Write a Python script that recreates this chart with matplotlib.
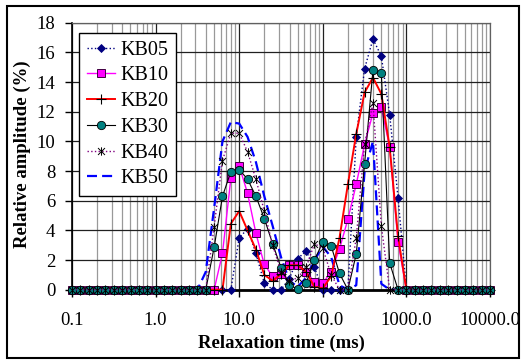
import numpy as np
import matplotlib
matplotlib.use('Agg')
import matplotlib.pyplot as plt
from matplotlib.path import Path
from matplotlib.patches import Rectangle
from matplotlib.ticker import FixedLocator, FixedFormatter, NullFormatter

plt.rcParams['font.family'] = ['Liberation Serif', 'DejaVu Serif']

# Relaxation time grid (ms): 10 samples per decade from 0.1 to 10000
t2 = np.logspace(-1, 4, 51)

kb05 = [0] * 20 + [3.5, 4.1, 2.45, 0.45, 0, 0, 0.75, 2.1, 2.6, 1.5,
                   0, 0, 0, 0, 10.3, 14.9, 16.9, 15.75, 11.8, 6.2] + [0] * 11
kb10 = [0] * 18 + [2.45, 7.5, 8.35, 6.5, 3.8, 1.7, 0.9, 1.05, 1.65, 1.65, 1.2,
                   0.55, 0.45, 1.2, 2.75, 4.75, 7.1, 9.8, 11.9, 12.3, 9.6, 3.2] + [0] * 11
kb20 = [0] * 19 + [4.45, 5.3, 4.0, 2.7, 1.0, 0.6, 1.05, 1.65, 1.65, 1.2, 0.2,
                   0.1, 0.9, 3.5, 7.1, 10.5, 13.3, 14.3, 13.2, 9.6, 3.6] + [0] * 11
kb30 = [0] * 17 + [2.85, 6.3, 7.95, 8.1, 7.45, 6.3, 4.8, 3.1, 1.48, 0.3, 0.05,
                   0.45, 2.0, 3.2, 2.95, 1.1, 0, 2.4, 8.5, 14.8, 14.6, 1.8] + [0] * 12
kb40 = [0] * 17 + [4.25, 8.7, 10.55, 10.55, 9.3, 7.45, 5.3, 3.0, 1.2, 0.6, 0.8,
                   1.5, 3.1, 2.8, 1.0, 0, 0, 3.5, 9.8, 12.6, 4.3] + [0] * 13
kb50 = [0] * 16 + [1.2, 5.5, 10.0, 11.3, 11.2, 10.3, 8.6, 6.3, 4.3, 2.2, 0.6,
                   0.2, 0.8, 2.0, 2.9, 2.2, 0.3, 0, 0.3, 8.0, 10.0, 0.4] + [0] * 13

series_names = ['KB05', 'KB10', 'KB20', 'KB30', 'KB40', 'KB50']
xtick_vals = [0.1, 1, 10, 100, 1000, 10000]
xtick_labels = ['0.1', '1.0', '10.0', '100.0', '1000.0', '10000.0']
ytick_vals = [0, 2, 4, 6, 8, 10, 12, 14, 16, 18]

asterisk = Path([(-1, -1), (1, 1), (-1, 1), (1, -1), (0, -1.2), (0, 1.2)],
                [Path.MOVETO, Path.LINETO, Path.MOVETO, Path.LINETO, Path.MOVETO, Path.LINETO])

W, H = 526, 360
fig = plt.figure(figsize=(W / 100, H / 100), dpi=100)
L, R, T, B = 72, 490, 22.7, 289.7
ax = fig.add_axes([L / W, 1 - B / H, (R - L) / W, (B - T) / H])
ax.set_xscale('log')
ax.set_xlim(0.1, 10000)
ax.set_ylim(0, 18)

# grid
ax.xaxis.set_major_locator(FixedLocator(xtick_vals))
ax.xaxis.set_major_formatter(FixedFormatter(xtick_labels))
minor = [m * 10.0 ** e for e in range(-1, 4) for m in range(2, 10)]
ax.xaxis.set_minor_locator(FixedLocator(minor))
ax.xaxis.set_minor_formatter(NullFormatter())
ax.yaxis.set_major_locator(FixedLocator(ytick_vals))
ax.grid(which='major', axis='both', color='#202020', lw=0.9, zorder=0)
ax.grid(which='minor', axis='x', color='#999999', lw=0.9, zorder=0)
ax.set_axisbelow(True)

common = dict(clip_on=False)
ax.plot(t2, kb05, ls=':', color='#000080', lw=1.0, marker='D', ms=4.0,
        mfc='#000080', mec='#000080', mew=0.6, label=series_names[0], zorder=3, **common)
ax.plot(t2, kb10, ls='-', color='#ff00ff', lw=1.0, marker='s', ms=5.6,
        mfc='#ff00ff', mec='#400040', mew=0.7, label=series_names[1], zorder=3, **common)
ax.plot(t2, kb20, ls='-', color='#ff0000', lw=1.4, marker='+', ms=7,
        mec='black', mew=0.8, label=series_names[2], zorder=3, **common)
ax.plot(t2, kb30, ls='-', color='black', lw=0.8, marker='o', ms=6.0,
        mfc='#008080', mec='#000000', mew=0.6, label=series_names[3], zorder=3, **common)
ax.plot(t2, kb40, ls=':', color='#800080', lw=1.0, marker=asterisk, ms=6.0,
        mfc='none', mec='black', mew=0.7, label=series_names[4], zorder=3, **common)
ax.plot(t2, kb50, ls=(0, (4.5, 2.3)), color='#0000ff', lw=1.6,
        label=series_names[5], zorder=2.4, clip_on=True)

for s in ['top', 'right']:
    ax.spines[s].set_color('#606060')
    ax.spines[s].set_linewidth(0.9)
ax.spines['left'].set_color('black')
ax.spines['left'].set_linewidth(1.2)
ax.spines['bottom'].set_color('black')
ax.spines['bottom'].set_linewidth(2.0)

ax.tick_params(axis='both', which='major', direction='out', length=5, width=1,
               labelsize=13.5, color='black')
ax.tick_params(axis='x', which='major', pad=11)
ax.tick_params(axis='y', which='major', pad=7)
ax.tick_params(axis='x', which='minor', length=0)
ax.tick_params(top=False, right=False)

fig.text((L + R) / 2 / W, 1 - 343 / H, 'Relaxation time (ms)', ha='center', va='center',
         fontsize=13.5, fontweight='bold')
fig.text(22 / W, 1 - 154 / H, 'Relative amplitude (%)', ha='center', va='center',
         rotation=90, fontsize=13.5, fontweight='bold')

leg = ax.legend(loc='upper left', bbox_to_anchor=((79.3 - L) / (R - L), (B - 33.3) / (B - T)),
                borderaxespad=0, fontsize=14.5, frameon=True, fancybox=False,
                framealpha=1, edgecolor='black', handlelength=1.4, handletextpad=0.3,
                labelspacing=0.33, borderpad=0.36)
leg.get_frame().set_linewidth(1.0)
leg.set_zorder(5)

fig.patches.append(Rectangle((7 / W, 1 - 357.5 / H), (519 - 7) / W, (357.5 - 5.5) / H,
                             transform=fig.transFigure, fill=False, ec='black', lw=1.5))

fig.savefig('out.png', dpi=100)
